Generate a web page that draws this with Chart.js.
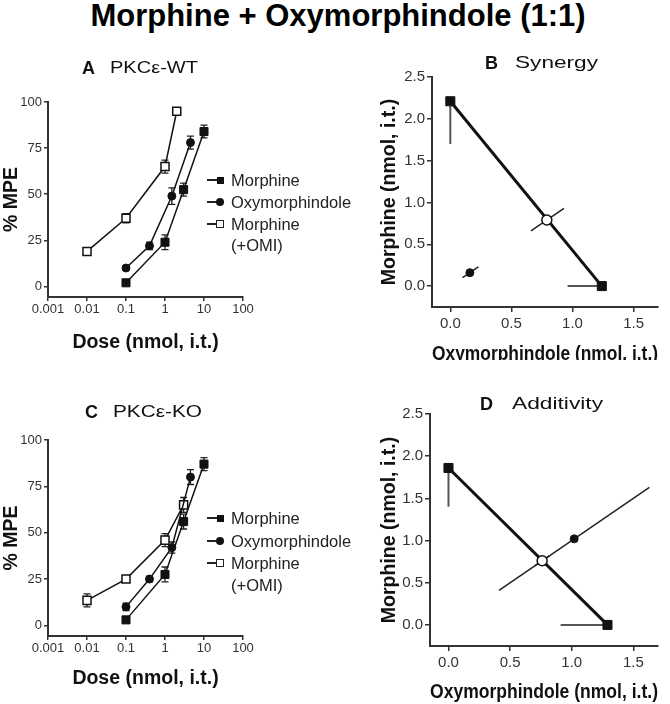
<!DOCTYPE html>
<html><head><meta charset="utf-8">
<script src="https://cdn.jsdelivr.net/npm/chart.js@4.4.1/dist/chart.umd.min.js"></script>
<style>
html,body{margin:0;padding:0;background:#fff;}
body{width:670px;height:704px;position:relative;overflow:hidden;font-family:"Liberation Sans",Arial,sans-serif;color:#111;}
canvas{position:absolute;}
.t{position:absolute;white-space:nowrap;}
.main{left:0;width:676px;top:-1px;text-align:center;font-weight:bold;font-size:31px;line-height:34px;color:#000;}
.pl{font-weight:bold;font-size:18px;line-height:20px;color:#111;}
.pt{font-size:17px;line-height:20px;color:#111;transform-origin:0 50%;}
.lg{font-size:16.5px;line-height:20px;color:#222;}
.ll{position:absolute;height:1.5px;background:#222;width:13px;}
.mk{position:absolute;box-sizing:border-box;}
</style></head><body>
<div class="t main">Morphine + Oxymorphindole (1:1)</div>

<canvas id="cA" width="335" height="320" style="left:0;top:40px"></canvas>
<canvas id="cB" width="335" height="320" style="left:335px;top:40px"></canvas>
<canvas id="cC" width="335" height="344" style="left:0;top:360px"></canvas>
<canvas id="cD" width="335" height="344" style="left:335px;top:360px"></canvas>

<div class="t pl" style="left:82px;top:58px">A</div>
<div class="t pt" data-w="88" style="left:110px;top:58px">PKCε-WT</div>
<div class="t pl" style="left:485px;top:53px">B</div>
<div class="t pt" data-w="83" style="left:515px;top:53px">Synergy</div>
<div class="t pl" style="left:85px;top:402px">C</div>
<div class="t pt" data-w="89" style="left:113px;top:402px">PKCε-KO</div>
<div class="t pl" style="left:480px;top:394px">D</div>
<div class="t pt" data-w="91" style="left:512px;top:394px">Additivity</div>

<div id="legends"></div>

<script>
// ---------- data ----------
const doseTicks = [0.001, 0.01, 0.1, 1, 10, 100];
const doseTickLabels = ['0.001', '0.01', '0.1', '1', '10', '100'];
const mpeTicks = [0, 25, 50, 75, 100];
const mpeTickLabels = ['0', '25', '50', '75', '100'];
const seriesNames = ['Morphine', 'Oxymorphindole', 'Morphine (+OMI)'];

const morphineDose = [0.1, 1, 3, 10];
const oxyDose = [0.1, 0.4, 1.5, 4.5];
const comboDoseWT = [0.01, 0.1, 1, 2];
const comboDoseKO = [0.01, 0.1, 1, 3];

// Panel A: PKCe-WT (%MPE, SEM)
const wtMorphineMPE = [2, 24, 52.5, 84];
const wtMorphineSEM = [1, 4, 3.5, 3.5];
const wtOxyMPE = [10, 22, 49, 78];
const wtOxySEM = [1, 2, 4.5, 3.5];
const wtComboMPE = [19, 37, 65, 95];
const wtComboSEM = [1, 2.5, 3.5, 2];

// Panel C: PKCe-KO (%MPE, SEM)
const koMorphineMPE = [3, 27.5, 56, 87];
const koMorphineSEM = [1.5, 4, 4, 3.5];
const koOxyMPE = [10, 25, 42, 80];
const koOxySEM = [2, 1.5, 3, 4];
const koComboMPE = [13.5, 25, 46, 65];
const koComboSEM = [3.5, 1, 3.5, 4];

// Isobolograms (nmol, i.t.)
const isoXTicks = [0, 0.5, 1, 1.5];
const isoXTickLabels = ['0.0', '0.5', '1.0', '1.5'];
const isoYTicks = [0, 0.5, 1, 1.5, 2, 2.5];
const isoYTickLabels = ['0.0', '0.5', '1.0', '1.5', '2.0', '2.5'];

// Panel B: Synergy
const synMorphineED50 = [2.21, 1.70];      // ED50, lower bound
const synOxyED50 = [1.24, 0.96];           // ED50, lower bound
const synTheoretical = [0.79, 0.79];       // x, y
const synTheoreticalCI = [0.66, 0.93];     // along 1:1 ray
const synExperimental = [0.16, 0.16];
const synExperimentalCI = [0.10, 0.23];

// Panel D: Additivity
const addMorphineED50 = [1.86, 1.40];
const addOxyED50 = [1.29, 0.91];
const addTheoretical = [0.76, 0.76];
const addTheoreticalCI = [0.70, 0.82];
const addExperimental = [1.02, 1.02];
const addExperimentalCI = [0.41, 1.63];

// ---------- helpers ----------
Chart.defaults.font.family = '"Liberation Sans", Arial, sans-serif';
Chart.defaults.color = '#333';

const errorBarPlugin = {
  id: 'errorBars',
  beforeDatasetsDraw(chart) {
    const ctx = chart.ctx, ys = chart.scales.y;
    chart.data.datasets.forEach((ds, di) => {
      if (!ds.sem) return;
      const meta = chart.getDatasetMeta(di);
      meta.data.forEach((pt, i) => {
        const v = ds.data[i].y, e = ds.sem[i];
        const yt = ys.getPixelForValue(v + e), yb = ys.getPixelForValue(v - e);
        ctx.save();
        ctx.strokeStyle = '#222'; ctx.lineWidth = 1.3;
        ctx.beginPath();
        ctx.moveTo(pt.x, yt); ctx.lineTo(pt.x, yb);
        ctx.moveTo(pt.x - 3.5, yt); ctx.lineTo(pt.x + 3.5, yt);
        ctx.moveTo(pt.x - 3.5, yb); ctx.lineTo(pt.x + 3.5, yb);
        ctx.stroke(); ctx.restore();
      });
    });
  }
};

function pts(xs, ys) { return xs.map((x, i) => ({x: x, y: ys[i]})); }

function axisCommon(tickSize, tickLen, tickPad) {
  return {
    grid: {display: true, drawOnChartArea: false, drawTicks: true, tickLength: tickLen, color: '#333', lineWidth: 1.5},
    border: {display: true, color: '#333', width: 2},
    ticks: {font: {size: tickSize}, color: '#333', padding: tickPad, maxRotation: 0, autoSkip: false}
  };
}

function doseChart(id, comboDose, m, o, c, pad, xH) {
  const xAx = axisCommon(13, 4, 1);
  const yAx = axisCommon(13, 4, 2);
  return new Chart(document.getElementById(id), {
    type: 'scatter',
    data: {datasets: [
      {label: seriesNames[0], data: pts(morphineDose, m[0]), sem: m[1], showLine: true,
       borderColor: '#111', borderWidth: 1.5, pointStyle: 'rect', pointRadius: 5.7,
       pointBackgroundColor: '#111', pointBorderColor: '#111', pointBorderWidth: 1},
      {label: seriesNames[1], data: pts(oxyDose, o[0]), sem: o[1], showLine: true,
       borderColor: '#111', borderWidth: 1.5, pointStyle: 'circle', pointRadius: 4,
       pointBackgroundColor: '#111', pointBorderColor: '#111', pointBorderWidth: 1},
      {label: seriesNames[2], data: pts(comboDose, c[0]), sem: c[1], showLine: true,
       borderColor: '#111', borderWidth: 1.5, pointStyle: 'rect', pointRadius: 5.7,
       pointBackgroundColor: '#fff', pointBorderColor: '#111', pointBorderWidth: 1.5}
    ]},
    options: {
      responsive: false, animation: false, events: [],
      layout: {padding: pad},
      plugins: {legend: {display: false}, tooltip: {enabled: false}},
      scales: {
        x: Object.assign(xAx, {
          type: 'logarithmic', min: 0.001, max: 100,
          afterBuildTicks: s => { s.ticks = doseTicks.map(v => ({value: v})); },
          ticks: Object.assign(xAx.ticks, {callback: (v, i) => doseTickLabels[i]}),
          title: {display: true, text: 'Dose (nmol, i.t.)', font: {size: 19.5, weight: 'bold'}, color: '#111', padding: 0},
          afterFit: s => { s.height = xH; s.paddingLeft = 0; s.paddingRight = 0; }
        }),
        y: Object.assign(yAx, {
          type: 'linear', min: -5.7, max: 100,
          afterBuildTicks: s => { s.ticks = mpeTicks.map(v => ({value: v})); },
          ticks: Object.assign(yAx.ticks, {callback: (v, i) => mpeTickLabels[i]}),
          title: {display: true, text: '% MPE', font: {size: 19.5, weight: 'bold'}, color: '#111', padding: 0},
          afterFit: s => { s.width = 48; s.paddingTop = 0; s.paddingBottom = 0; }
        })
      }
    },
    plugins: [errorBarPlugin]
  });
}

function isoChart(id, morph, oxy, theo, theoCI, exp, expCI, pad, xH, yW, xTitlePad) {
  const xAx = axisCommon(15, 5, 3);
  const yAx = axisCommon(15, 5, 2);
  const seg = (a, b) => ({data: [a, b], showLine: true, borderColor: '#222', borderWidth: 1.5, pointRadius: 0});
  return new Chart(document.getElementById(id), {
    type: 'scatter',
    data: {datasets: [
      {label: 'Theoretical', data: [{x: theo[0], y: theo[1]}], pointStyle: 'circle', pointRadius: 5,
       pointBackgroundColor: '#fff', pointBorderColor: '#111', pointBorderWidth: 1.5},
      {label: 'Experimental', data: [{x: exp[0], y: exp[1]}], pointStyle: 'circle', pointRadius: 4,
       pointBackgroundColor: '#111', pointBorderColor: '#111', pointBorderWidth: 1},
      {label: 'Isobole', data: [{x: 0, y: morph[0]}, {x: oxy[0], y: 0}], showLine: true,
       borderColor: '#111', borderWidth: 3, pointStyle: 'rect', pointRadius: 6.4,
       pointBackgroundColor: '#111', pointBorderColor: '#111', pointBorderWidth: 1},
      {label: 'Morphine CI', data: [{x: 0, y: morph[0]}, {x: 0, y: morph[1]}], showLine: true,
       borderColor: '#555', borderWidth: 2, pointRadius: 0},
      {label: 'Oxymorphindole CI', data: [{x: oxy[0], y: 0}, {x: oxy[1], y: 0}], showLine: true,
       borderColor: '#555', borderWidth: 2, pointRadius: 0},
      seg({x: theoCI[0], y: theoCI[0]}, {x: theoCI[1], y: theoCI[1]}),
      seg({x: expCI[0], y: expCI[0]}, {x: expCI[1], y: expCI[1]})
    ]},
    options: {
      responsive: false, animation: false, events: [],
      layout: {padding: pad},
      plugins: {legend: {display: false}, tooltip: {enabled: false}},
      scales: {
        x: Object.assign(xAx, {
          type: 'linear', min: -0.15, max: 1.7,
          afterBuildTicks: s => { s.ticks = isoXTicks.map(v => ({value: v})); },
          ticks: Object.assign(xAx.ticks, {callback: (v, i) => isoXTickLabels[i]}),
          title: {display: true, text: 'Oxymorphindole (nmol, i.t.)', font: {size: 19.5, weight: 'bold'}, color: '#111',
                  padding: {top: 0, bottom: xTitlePad}},
          afterFit: s => { s.height = xH; s.paddingLeft = 0; s.paddingRight = 0; }
        }),
        y: Object.assign(yAx, {
          type: 'linear', min: -0.25, max: 2.5,
          afterBuildTicks: s => { s.ticks = isoYTicks.map(v => ({value: v})); },
          ticks: Object.assign(yAx.ticks, {callback: (v, i) => isoYTickLabels[i]}),
          title: {display: true, text: 'Morphine (nmol, i.t.)', font: {size: 19.5, weight: 'bold'}, color: '#111', padding: 0},
          afterFit: s => { s.width = yW; s.paddingTop = 0; s.paddingBottom = 0; }
        })
      }
    }
  });
}

doseChart('cA', comboDoseWT, [wtMorphineMPE, wtMorphineSEM], [wtOxyMPE, wtOxySEM], [wtComboMPE, wtComboSEM],
  {left: 0, top: 62, right: 92, bottom: 6}, 57);
doseChart('cC', comboDoseKO, [koMorphineMPE, koMorphineSEM], [koOxyMPE, koOxySEM], [koComboMPE, koComboSEM],
  {left: 0, top: 80, right: 92, bottom: 14}, 54);
isoChart('cB', synMorphineED50, synOxyED50, synTheoretical, synTheoreticalCI, synExperimental, synExperimentalCI,
  {left: 43, top: 37, right: 12, bottom: 0}, 53, 54, -6);
isoChart('cD', addMorphineED50, addOxyED50, addTheoretical, addTheoreticalCI, addExperimental, addExperimentalCI,
  {left: 43, top: 54, right: 12, bottom: 0}, 58, 52, 0);

// ---------- legends (HTML) ----------
function legend(rows) {
  const host = document.getElementById('legends');
  const markers = ['sq', 'ci', 'osq'];
  const texts = [seriesNames[0], seriesNames[1], 'Morphine', '(+OMI)'];
  rows.forEach((y, i) => {
    if (i < 3) {
      const l = document.createElement('div'); l.className = 'll';
      l.style.left = '207px'; l.style.top = (y - 0.75) + 'px'; host.appendChild(l);
      const m = document.createElement('div'); m.className = 'mk';
      const k = markers[i];
      if (k === 'sq') { m.style.cssText += 'width:7px;height:7px;background:#111;'; }
      if (k === 'ci') { m.style.cssText += 'width:8px;height:8px;background:#111;border-radius:50%;'; }
      if (k === 'osq') { m.style.cssText += 'width:8px;height:8px;background:#fff;border:1.5px solid #222;'; }
      const w = parseFloat(m.style.width);
      m.style.left = (220 - w / 2) + 'px'; m.style.top = (y - w / 2) + 'px';
      host.appendChild(m);
    }
    const t = document.createElement('div'); t.className = 't lg';
    t.textContent = texts[i];
    t.style.left = '231px'; t.style.top = (y - 10) + 'px';
    host.appendChild(t);
  });
}
legend([180, 202, 224, 245]);
legend([518, 541, 563, 585]);

// stretch panel subtitles to the reference widths
document.querySelectorAll('.pt').forEach(el => {
  const w = el.getBoundingClientRect().width;
  el.style.transform = 'scaleX(' + (parseFloat(el.dataset.w) / w).toFixed(3) + ')';
});
</script>
</body></html>
